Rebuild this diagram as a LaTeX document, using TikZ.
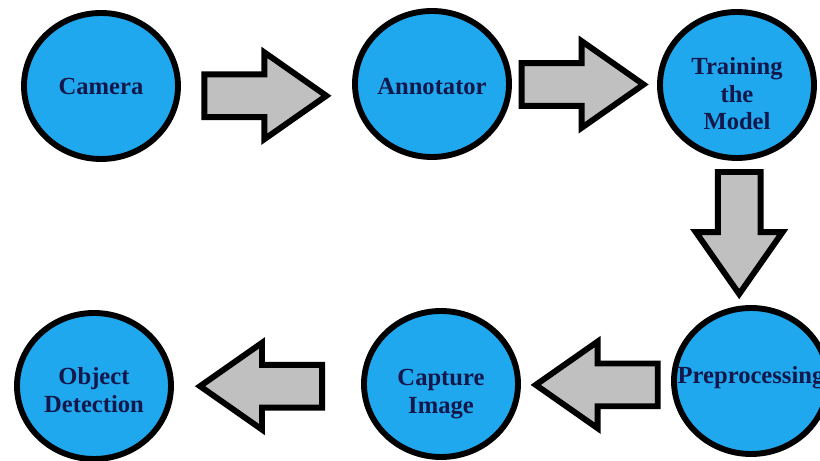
\documentclass[tikz,border=0pt]{standalone}
\usepackage{fontspec}
\setmainfont{Liberation Serif}
\usepackage{tikz}
\usetikzlibrary{shapes.geometric, shapes.arrows, positioning, calc}
\definecolor{stageblue}{HTML}{20A8EF}
\definecolor{stagetext}{HTML}{13174A}
\definecolor{arrowgray}{HTML}{C0C0C0}

\begin{document}
\begin{tikzpicture}[
    stage/.style={ellipse, draw=black, line width=4.2pt, fill=stageblue,
        minimum width=3.85cm, minimum height=3.65cm, inner sep=0pt},
    caption/.style={align=center, inner sep=0pt, text=stagetext,
        font=\fontsize{17.5}{19.5}\selectfont\bfseries},
    fatarrow/.style={single arrow, draw=black, line width=4.2pt, fill=arrowgray,
        minimum height=3.05cm, minimum width=2.0cm, inner sep=0.46cm,
        single arrow tip angle=70, single arrow head extend=0.55cm}
]
    \useasboundingbox (0,0) rectangle (20.5,11.525);

    % Top row
    \node[stage, label={[caption]center:Camera}] (camera) at (2.525, 9.375) {};
    \node[stage, label={[caption, yshift=-0.07cm]center:Annotator}] (annot) at (10.8, 9.425) {};
    \node[stage, label={[caption, yshift=-0.22cm]center:Training\\the\\Model}] (train) at (18.425, 9.4) {};

    % Bottom row
    \node[stage, label={[caption, yshift=0.08cm]center:Preprocessing}] (prep) at (18.775, 2.0) {};
    \node[stage, label={[caption, yshift=-0.25cm]center:Capture\\Image}] (capture) at (11.025, 1.925) {};
    \node[stage, label={[caption, yshift=-0.1cm]center:Object\\Detection}] (detect) at (2.35, 1.875) {};

    % Block arrows
    \node[fatarrow] (a1) at ($(camera.east)!0.5!(annot.west)+(-0.41,-0.27)$) {};
    \node[fatarrow] (a2) at ($(annot.east)!0.5!(train.west)+(-0.43,0)$) {};
    \node[fatarrow, rotate=-90] (a3) at ($(train.south)!0.5!(prep.north)+(-0.12,0.38)$) {};
    \node[fatarrow, rotate=180] (a4) at ($(prep.west)!0.5!(capture.east)+(0.4,-0.06)$) {};
    \node[fatarrow, rotate=180] (a5) at ($(capture.west)!0.5!(detect.east)+(0.22,-0.03)$) {};
\end{tikzpicture}
\end{document}
